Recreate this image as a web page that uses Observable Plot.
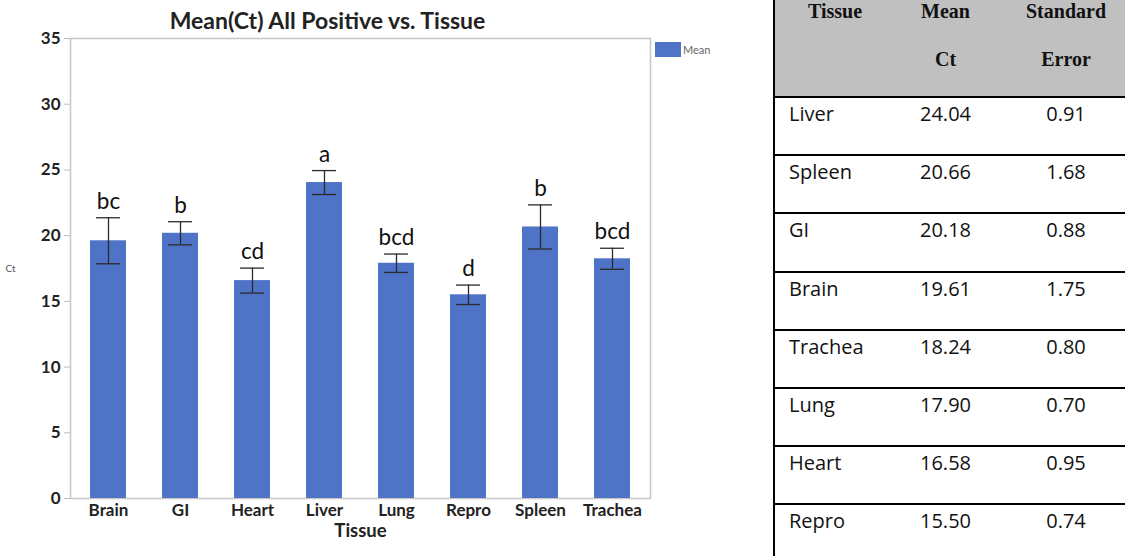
<!DOCTYPE html>
<html>
<head>
<meta charset="utf-8">
<script src="https://cdn.jsdelivr.net/npm/d3@7"></script>
<script src="https://cdn.jsdelivr.net/npm/@observablehq/plot@0.6"></script>
<style>
  html, body { margin: 0; padding: 0; background: #fff; }
  #wrap { position: relative; width: 1125px; height: 556px; overflow: hidden; }
  #chart { position: absolute; left: 0; top: 0; }
  #legend { position: absolute; left: 655px; top: 42px; display: flex; align-items: center; font: 11px Lato, sans-serif; color: #666; }
  #legend .sw { width: 26px; height: 15px; background: #4f73c7; margin-right: 2px; }
  #tbl { position: absolute; left: 773px; top: -13px; border-collapse: collapse; table-layout: fixed; width: 362px; border-left: 2px solid #000; }
  #tbl th { background: #c0c0c0; font: bold 20px "Liberation Serif", "Times New Roman", serif; color: #111; line-height: 48px; vertical-align: top; padding: 0; height: 109px; text-align: center; }
  #tbl td { font: 20px "Open Sans", sans-serif; color: #111; border-top: 2px solid #000; height: 58.2px; vertical-align: top; padding: 4px 0 0 0; line-height: 24px; box-sizing: border-box; }
  #tbl td.c0 { text-align: left; padding-left: 14px; }
  #tbl td.c1, #tbl td.c2 { text-align: center; }
</style>
</head>
<body>
<div id="wrap">
  <div id="chart"></div>
  <div id="legend"><div class="sw"></div><span>Mean</span></div>
  <table id="tbl"></table>
</div>
<script>
const tissues = ["Brain", "GI", "Heart", "Liver", "Lung", "Repro", "Spleen", "Trachea"];
const meanCt = [19.61, 20.18, 16.58, 24.04, 17.90, 15.50, 20.66, 18.24];
const stdErr = [1.75, 0.88, 0.95, 0.91, 0.70, 0.74, 1.68, 0.80];
const letters = ["bc", "b", "cd", "a", "bcd", "d", "b", "bcd"];
const yTicks = [0, 5, 10, 15, 20, 25, 30, 35];

const data = tissues.map((t, i) => ({
  tissue: t, mean: meanCt[i], se: stdErr[i], letter: letters[i],
  lo: meanCt[i] - stdErr[i], hi: meanCt[i] + stdErr[i]
}));

const blue = "#4f73c7";
const font = "Lato, 'Open Sans', sans-serif";

const chart = Plot.plot({
  width: 760,
  height: 556,
  marginLeft: 70,
  marginRight: 110,
  marginTop: 38,
  marginBottom: 58,
  style: { fontFamily: font, background: "transparent" },
  x: { domain: tissues, paddingInner: 0.5, paddingOuter: 0.25, label: null },
  y: { domain: [0, 35], label: null },
  marks: [
    Plot.frame({ stroke: "#c8c8c8", strokeWidth: 1.6 }),
    Plot.barY(data, { x: "tissue", y: "mean", fill: blue }),
    Plot.ruleX(data, { x: "tissue", y1: "lo", y2: "hi", stroke: "#2b2b2b", strokeWidth: 1.3 }),
    Plot.tickY(data, { x: "tissue", y: "hi", stroke: "#2b2b2b", strokeWidth: 1.3, insetLeft: 6, insetRight: 6 }),
    Plot.tickY(data, { x: "tissue", y: "lo", stroke: "#2b2b2b", strokeWidth: 1.3, insetLeft: 6, insetRight: 6 }),
    Plot.text(data, { x: "tissue", y: "hi", text: "letter", lineAnchor: "bottom", dy: -9, fontSize: 22.5, fill: "#111" }),
    Plot.axisY({ ticks: yTicks, tickSize: 6, tickPadding: 4, stroke: "#bbb", fill: "#222", fontSize: 17, fontWeight: "bold", label: null }),
    Plot.axisX({ tickSize: 0, tickPadding: 5, fill: "#222", fontSize: 17, fontWeight: "bold", label: null }),
    Plot.text(["Tissue"], { frameAnchor: "bottom", dy: 33, lineAnchor: "middle", fontSize: 18.5, fontWeight: "bold", fill: "#222" }),
    Plot.text(["Mean(Ct) All Positive vs. Tissue"], { frameAnchor: "top", dx: -33, dy: -17, lineAnchor: "middle", fontSize: 23, fontWeight: "bold", fill: "#222" }),
    Plot.text(["Ct"], { frameAnchor: "left", dx: -60, lineAnchor: "middle", textAnchor: "middle", fontSize: 10, fill: "#555" })
  ]
});
document.getElementById("chart").appendChild(chart);

// Table (sorted by mean, descending)
const headers = [["Tissue", ""], ["Mean", "Ct"], ["Standard", "Error"]];
const rows = data.slice().sort((a, b) => b.mean - a.mean);
const tbl = document.getElementById("tbl");
const colW = [121, 101, 140];
const cg = document.createElement("colgroup");
colW.forEach(w => { const c = document.createElement("col"); c.style.width = w + "px"; cg.appendChild(c); });
tbl.appendChild(cg);
const hr = document.createElement("tr");
headers.forEach(h => { const th = document.createElement("th"); th.innerHTML = h[0] + "<br>" + h[1]; hr.appendChild(th); });
tbl.appendChild(hr);
rows.forEach(r => {
  const tr = document.createElement("tr");
  [r.tissue, r.mean.toFixed(2), r.se.toFixed(2)].forEach((v, i) => {
    const td = document.createElement("td"); td.className = "c" + i; td.textContent = v; tr.appendChild(td);
  });
  tbl.appendChild(tr);
});
</script>
</body>
</html>
